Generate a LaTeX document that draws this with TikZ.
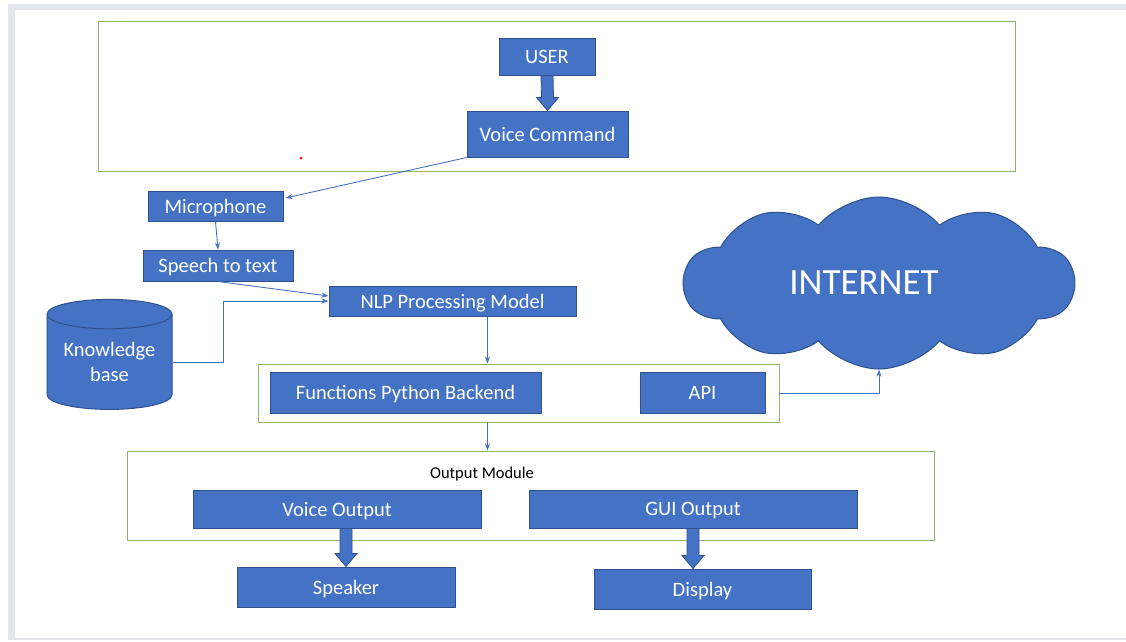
\documentclass[tikz,border=0pt]{standalone}
\usepackage{fontspec}
\setmainfont{Carlito}
\usetikzlibrary{calc,arrows.meta,shapes.geometric,shapes.symbols}
\definecolor{boxfill}{HTML}{4472C4}
\definecolor{boxline}{HTML}{2F528F}
\definecolor{grp}{HTML}{8DB86A}
\definecolor{frame}{HTML}{E3E6EA}
\tikzset{
  blk/.style={rectangle, fill=boxfill, draw=boxline, line width=1pt, text=white, inner sep=0pt, text depth=0pt, font=\fontsize{20.5}{24}\selectfont},
  grpbox/.style={rectangle, draw=grp, line width=0.9pt, inner sep=0pt},
  conn/.style={draw=boxfill, line width=0.9pt, -{Stealth[length=7pt,width=5pt]}},
  fat/.style={fill=boxfill, draw=boxline, line width=0.8pt},
}
\newcommand\fatarr[2]{%
  \path[fat] ($#1+(-6,0)$) -- ($#1+(6,0)$) -- ($#2+(6,-13)$) -- ($#2+(11,-13)$) -- #2 -- ($#2+(-11,-13)$) -- ($#2+(-6,-13)$) -- cycle;}
\begin{document}
\begin{tikzpicture}[x=1pt,y=-1pt]
\useasboundingbox (0,0) rectangle (1126,641);
\fill[white] (0,0) rectangle (1126,641);
\fill[frame] (8,4) rectangle (1126,640);
\fill[white] (15,10) rectangle (1126,638);
% group boxes
\node[grpbox, minimum width=917pt, minimum height=150pt] (topbox) at (556.5,96) {};
\node[grpbox, minimum width=521pt, minimum height=58pt] (fnbox) at (518.5,393) {};
\node[grpbox, minimum width=807pt, minimum height=89pt] (outbox) at (530.5,495.5) {};
% blocks
\node[blk, minimum width=96pt, minimum height=37pt] (user) at (547,56.5) {USER};
\node[blk, minimum width=161pt, minimum height=46pt] (vc) at (547.5,134) {Voice Command};
\node[blk, minimum width=135pt, minimum height=30pt] (mic) at (215.5,206) {Microphone};
\node[blk, minimum width=150pt, minimum height=31pt] (stt) at (218,265.5) {Speech to text};
\node[blk, minimum width=247pt, minimum height=30pt] (nlp) at (452.5,301) {NLP Processing Model};
\node[blk, minimum width=271pt, minimum height=41pt] (fpb) at (405.5,392.5) {Functions Python Backend};
\node[blk, minimum width=125pt, minimum height=41pt] (api) at (702.5,392.5) {API};
\node[blk, minimum width=288pt, minimum height=38pt] (vo) at (337,509) {Voice Output};
\node[blk, minimum width=328pt, minimum height=38pt] (gui) at (693,509) {GUI Output};
\node[blk, minimum width=218pt, minimum height=40pt] (spk) at (346,587) {Speaker};
\node[blk, minimum width=217pt, minimum height=40pt] (disp) at (702.5,589) {Display};
\node[cylinder, shape border rotate=90, aspect=0.32, minimum height=110pt, minimum width=125pt,
  fill=boxfill, draw=boxline, line width=1pt, text=white, align=center, inner sep=0pt,
  font=\fontsize{20.5}{25}\selectfont] (kb) at (109.5,362) {\raisebox{-12pt}{\shortstack{Knowledge\\[5pt]base}}};
\node[cloud, cloud puffs=10, cloud puff arc=100, aspect=2.3, minimum width=390pt, minimum height=172pt,
  fill=boxfill, draw=boxline, line width=1pt, text=white, inner sep=0pt,
  font=\fontsize{37}{42}\selectfont] (net) at (879,283) {\hspace*{-30pt}INTERNET};
\node[font=\fontsize{16.5}{19}\selectfont, text=black] (omlabel) at (482,474) {Output Module};
% red dot
\fill[red] (301,158) circle (1.5);
% fat arrows
\fatarr{(user.south)}{(vc.north)}
\fatarr{(spk.north |- vo.south)}{(spk.north)}
\fatarr{(gui.south)}{(gui.south |- disp.north)}
% connectors
\draw[conn] (vc.south west) -- ($(mic.east)+(2,-8)$);
\draw[conn] (mic.south) -- (stt.north);
\draw[conn] (stt.south) -- ($(nlp.west)+(0,-5)$);
\draw[conn] (kb.east) -- ++(51,0) |- (nlp.west);
\draw[conn] ($(nlp.south)+(35,0)$) coordinate (a1) -- (a1 |- fnbox.north);
\draw[conn] (a1 |- fnbox.south) -- (a1 |- outbox.north);
\draw[conn] (fnbox.east) -| (net.south);
\end{tikzpicture}
\end{document}
